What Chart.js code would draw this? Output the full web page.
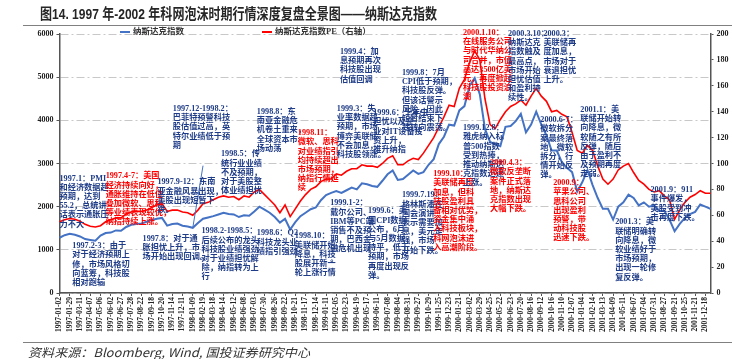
<!DOCTYPE html>
<html>
<head>
<meta charset="utf-8">
<script src="https://cdn.jsdelivr.net/npm/chart.js@4.4.1/dist/chart.umd.min.js"></script>
<style>
  html, body { margin: 0; padding: 0; background: #fff; }
  #wrap { position: relative; width: 732px; height: 359px; overflow: hidden; }
  #c { position: absolute; left: 0; top: 0; }
  #title { position: absolute; left: 40px; top: 2px; white-space: nowrap; transform-origin: 0 0; line-height: 20px;
           font: bold 15px "Liberation Sans", "Noto Sans CJK SC", sans-serif; color: #262626; }
  .rule { position: absolute; left: 23px; right: 0; height: 1.5px; background: #808080; }
  #src { position: absolute; left: 28px; top: 343px; white-space: nowrap; transform-origin: 0 0;
         font: italic 12px "Noto Sans CJK SC", sans-serif; color: #333; }
</style>
</head>
<body>
<div id="wrap">
  <canvas id="c" width="732" height="359"></canvas>
  <div id="title">图14. 1997 年-2002 年科网泡沫时期行情深度复盘全景图——纳斯达克指数</div>
  <div class="rule" style="top:24.5px"></div>
  <div class="rule" style="top:341.5px"></div>
  <div id="src">资料来源：Bloomberg, Wind, 国投证券研究中心</div>
</div>
<script>
// tick dates shown on the x axis (every other point carries a label)
const dates = [
  '1997-01-02','1997-01-29','1997-03-11','1997-04-07','1997-05-06','1997-06-02','1997-06-27','1997-07-28',
  '1997-08-22','1997-09-18','1997-10-20','1997-11-14','1997-12-11','1998-01-09','1998-02-19','1998-03-18',
  '1998-04-14','1998-05-12','1998-06-08','1998-07-03','1998-07-30','1998-08-26','1998-09-22','1998-10-21',
  '1998-11-17','1998-12-14','1999-01-11','1999-02-05','1999-03-23','1999-04-19','1999-05-17','1999-06-11',
  '1999-07-08','1999-08-04','1999-08-31','1999-09-27','1999-10-29','1999-11-25','1999-12-23','2000-01-21',
  '2000-03-02','2000-03-29','2000-04-25','2000-05-22','2000-06-23','2000-07-20','2000-08-16','2000-09-12',
  '2000-10-16','2000-11-10','2000-12-07','2001-01-04','2001-02-14','2001-03-13','2001-04-09','2001-05-11',
  '2001-06-07','2001-07-04','2001-07-31','2001-08-27','2001-09-21','2001-10-25','2001-11-21','2001-12-18'
];

// Nasdaq composite (left axis)
const nasdaq = [
  1280,1340,1370,1350,1310,1250,1230,1210,1330,1390,1400,1450,1440,1530,1580,1600,
  1610,1650,1690,1720,1740,1560,1600,1610,1560,1540,1510,1620,1720,1750,1780,1820,
  1860,1830,1820,1760,1800,1790,1890,2000,1930,1860,1760,1630,1720,1470,1640,1780,
  1860,1940,1980,2150,2270,2320,2360,2320,2380,2440,2400,2540,2520,2480,2460,2600,
  2750,2840,2620,2640,2740,2840,2760,2800,2970,3100,3450,3620,3900,3880,4230,4330,
  4800,4980,4600,3800,3500,3450,3400,3850,3870,3980,4150,3720,3900,4200,3900,3650,
  3300,3300,3030,2900,2800,2350,2570,2850,2500,2200,1950,1950,1700,2000,2100,2280,
  2200,2030,2100,2000,2030,1900,1900,1700,1430,1600,1740,1830,1880,2050,2000,1950
];

// Nasdaq PE (right axis)
const pe = [
  55,56.5,57.5,57,55.5,53,51.5,51,52,55,56.5,58,58,61,62.5,63,
  63,64,66,68,69,63,64,64,62.5,62,60,64,69,70,72,74,
  75,74,74.5,72,75,74,78,80,76,72,68,62,68,59,65,71,
  76,80,82,86,88,88,92,91,94,96,96,99,98,98,97,100,
  104,106,99,99,102,104,103,108,114,120,128,136,145,144,158,165,
  178,187,180,150,130,127,134,140,144,146,149,145,152,158,152,148,
  140,141,138,136,124,110,108,114,110,98,88,84,88,95,98,100,
  93,87,84,80,78,79,75,72,57,64,70,74,76,79,77,77
];

const leftTicks = [0, 1000, 2000, 3000, 4000, 5000, 6000];
const rightTicks = [0, 20, 40, 60, 80, 100, 120, 140, 160, 180, 200];

const labels = nasdaq.map((_, i) => (i % 2 === 0 && dates[i / 2]) ? dates[i / 2] : '');

// annotation texts, anchored at [point index, left-axis value]
const notes = [
  { at: [0, 2750], red: false, text: ['1997.1：PMI', '和经济数据超', '预期，达到', '55.2，总统讲', '话表示通胀压', '力不大'] },
  { at: [9, 2800], red: true, text: ['1997.4-7：美国', '经济持续向好，', '通胀维持在低位', '叠加微软、思科', '等业绩表现较优，', '纳指持续上涨。'] },
  { at: [2.5, 1180], red: false, text: ['1997.2-3：由于', '对于经济预期上', '修，市场风格切', '向蓝筹，科技股', '相对跑输'] },
  { at: [19.1, 2660], red: false, text: ['1997.9-12：东南', '亚金融风暴出现，', '美股出现短暂下', '跌。'] },
  { at: [16.2, 1360], red: false, text: ['1997.8：对于通', '胀担忧上升，市', '场开始出现回调。'] },
  { at: [22.1, 4360], red: false, text: ['1997.12-1998.2：', '巴菲特预警科技', '股估值过高，英', '特尔业绩低于预', '期'] },
  { at: [27.7, 1525], red: false, text: ['1998.2-1998.5：', '后续公布的龙头', '科技股业绩强劲', '对于业绩担忧解', '除，纳指转为上', '行'] },
  { at: [31.5, 3310], red: false, text: ['1998.5：传', '统行业业绩', '不及预期，', '对于美股整', '体业绩担忧'] },
  { at: [38.5, 4290], red: false, text: ['1998.8：东', '南亚金融危', '机卷土重来，', '全球资本市', '场动荡'] },
  { at: [46.5, 3800], red: true, text: ['1998.11：', '微软、思科', '对业绩指引', '均持续超出', '市场预期，', '纳指行情延', '续'] },
  { at: [38.5, 1480], red: false, text: ['1998.6：Q2', '科技龙头业', '绩指引强劲'] },
  { at: [45.9, 1410], red: false, text: ['1998.10：', '美联储开始', '降息，科技', '股展开新一', '轮上涨行情'] },
  { at: [52.8, 2175], red: false, text: ['1999.1-2：', '戴尔公司、', 'IBM等PC端', '销售不及预', '期，巴西金', '融危机出现', '。'] },
  { at: [54.1, 4360], red: false, text: ['1999.3：失', '业率数据超', '预期，市场', '博弈美联储', '不会加息，', '科技股领涨。'] },
  { at: [54.7, 5680], red: false, text: ['1999.4：加', '息预期再次', '科技股出现', '估值回调'] },
  { at: [61.2, 4265], red: false, text: ['1999.6：千年虫', '担忧以及企', '业对IT设备投', '资上升，', '推升纳指'] },
  { at: [60.2, 1990], red: false, text: ['1999.6：美', '国CPI数据', '公布，6月', '与5月数据', '持平，低于', '预期，市场', '再度出现反', '弹。'] },
  { at: [66.8, 2361], red: false, text: ['1999.7.19：', '格林斯潘在', '国会演讲', '表示需要加', '息，美元走', '强，市场', '开始下跌。'] },
  { at: [66.8, 5194], red: false, text: ['1999.8：7月', 'CPI低于预期，', '科技股反弹。', '但该话警示', '风险，因此', '短暂结束下', '跌转向震荡。'] },
  { at: [72.9, 2849], red: true, text: ['1999.10：', '美联储再度', '加息，但科', '技股盈利具', '备相对优势，', '资金集中涌', '入科技板块，', '科网泡沫进', '入高潮阶段。'] },
  { at: [78.7, 3917], red: false, text: ['1999.12.8：', '雅虎纳入标', '普500指数', '受到热捧，', '推动纳斯达', '克指数迅速', '上涨。'] },
  { at: [78.7, 6123], red: true, text: ['2000.1.10：', '在线服务公司', '与时代华纳公', '司合并，市值', '高达3500亿美', '元，再度掀起', '科技股投资浪', '潮'] },
  { at: [87.5, 6100], red: false, text: ['2000.3.10：', '纳斯达克', '指数触及', '最高点，', '市场开始', '担忧估值', '和盈利持', '续性。'] },
  { at: [94.4, 6100], red: false, text: ['2000.3：', '美联储再', '度加息，', '市场对于', '衰退担忧', '上升。'] },
  { at: [84, 3104], red: true, text: ['2000.4.3：', '微软反垄断', '案件正式落', '地，纳斯达', '克指数出现', '大幅下跌。'] },
  { at: [93.8, 4103], red: false, text: ['2000.6-7：', '微软拆分', '案最终落', '地，微软', '拆分，行', '情开始反', '弹。'] },
  { at: [96.3, 2640], red: true, text: ['2000.9：', '苹果公司、', '思科公司', '出现盈利', '预警，带', '动科技股', '迅速下跌。'] },
  { at: [101.6, 4335], red: false, text: ['2001.1：美', '联储开始转', '向降息，微', '软随之有所', '反弹，随后', '由于盈利不', '及预期再度', '走弱。'] },
  { at: [108.4, 1735], red: false, text: ['2001.3：美', '联储明确转', '向降息，微', '软业绩好于', '市场预期，', '出现一轮修', '复反弹。'] },
  { at: [115.3, 2478], red: false, text: ['2001.9：911', '事件爆发，', '美股受到冲', '击再度下跌。'] }
];
// leader line from the index to the 1997.12-1998.2 note
const leader = [[26, 1510], [28, 2950]];

const BLUE = '#4472C4', RED = '#FF0000', NOTE_BLUE = '#1F3C88';
const tickFont = { family: '"Liberation Serif", serif', size: 8, weight: 'bold' };

const notesPlugin = {
  id: 'notes',
  afterDatasetsDraw(chart) {
    const { ctx, scales: { x, y } } = chart;
    ctx.save();
    ctx.strokeStyle = BLUE;
    ctx.lineWidth = 1;
    ctx.beginPath();
    ctx.moveTo(x.getPixelForValue(leader[0][0]), y.getPixelForValue(leader[0][1]));
    ctx.lineTo(x.getPixelForValue(leader[1][0]), y.getPixelForValue(leader[1][1]));
    ctx.stroke();
    ctx.font = 'bold 8.2px "Liberation Serif", "Noto Sans CJK SC", serif';
    ctx.textBaseline = 'top';
    notes.forEach(n => {
      const px = x.getPixelForValue(n.at[0]);
      const py = y.getPixelForValue(n.at[1]);
      ctx.fillStyle = n.red ? RED : NOTE_BLUE;
      n.text.forEach((t, i) => ctx.fillText(t, px, py + i * 9.2));
    });
    // legend
    const items = chart.data.datasets.map((d, i) => ({ d, x: i === 0 ? 120 : 262 }));
    ctx.font = 'bold 8.5px "Liberation Serif", "Noto Sans CJK SC", serif';
    ctx.textBaseline = 'middle';
    items.forEach(it => {
      ctx.strokeStyle = it.d.borderColor;
      ctx.lineWidth = 2;
      ctx.beginPath();
      ctx.moveTo(it.x, 32);
      ctx.lineTo(it.x + 10, 32);
      ctx.stroke();
      ctx.fillStyle = '#333';
      ctx.fillText(it.d.label, it.x + 13, 32);
    });
    ctx.restore();
  }
};

new Chart(document.getElementById('c').getContext('2d'), {
  type: 'line',
  data: {
    labels: labels,
    datasets: [
      { label: '纳斯达克指数', data: nasdaq, borderColor: BLUE, borderWidth: 2, pointRadius: 0, yAxisID: 'y' },
      { label: '纳斯达克指数PE（右轴）', data: pe, borderColor: RED, borderWidth: 1.6, pointRadius: 0, yAxisID: 'y1' }
    ]
  },
  options: {
    responsive: false,
    animation: false,
    devicePixelRatio: 1,
    layout: { padding: { top: 34 } },
    plugins: { legend: { display: false }, tooltip: { enabled: false } },
    scales: {
      x: {
        afterFit: s => { s.height = 66; },
        ticks: {
          autoSkip: false, maxRotation: 90, minRotation: 90, padding: 1,
          font: { family: '"Liberation Serif", serif', size: 7.5, weight: 'bold' }, color: '#222',
          callback: (v, i) => labels[i] || null
        },
        grid: { drawOnChartArea: false, tickLength: 3, color: '#555' },
        border: { color: '#555', width: 1.5 }
      },
      y: {
        position: 'left', min: 0, max: 6000,
        afterFit: s => { s.width = 59.5; },
        afterBuildTicks: s => { s.ticks = leftTicks.map(v => ({ value: v })); },
        ticks: { font: tickFont, color: '#222', callback: v => String(v) },
        grid: { color: '#c8c8c8', tickLength: 3, tickColor: '#555' },
        border: { color: '#555', width: 1.5, dash: [8, 3, 2, 3] }
      },
      y1: {
        position: 'right', min: 0, max: 200,
        afterFit: s => { s.width = 21.5; },
        afterBuildTicks: s => { s.ticks = rightTicks.map(v => ({ value: v })); },
        ticks: { font: tickFont, color: '#222', callback: v => String(v) },
        grid: { drawOnChartArea: false, tickLength: 3, color: '#555' },
        border: { color: '#555', width: 1.5 }
      }
    }
  },
  plugins: [notesPlugin]
});

function fit(id, w) {
  const el = document.getElementById(id);
  el.style.transform = 'scaleX(' + (w / el.scrollWidth) + ')';
}
fit('title', 397);
fit('src', 282);
</script>
</body>
</html>
